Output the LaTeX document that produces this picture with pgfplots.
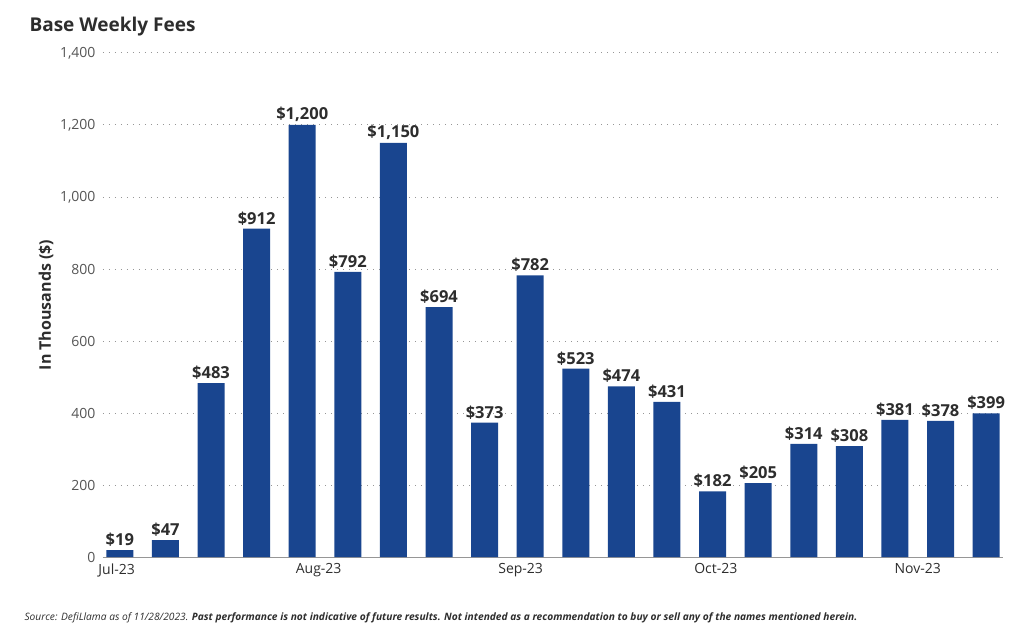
\documentclass[border=0pt]{standalone}
\usepackage{pgfplots}
\pgfplotsset{compat=1.18}
\usepackage{fontspec}
\setmainfont{Open Sans}
\definecolor{barblue}{RGB}{25,69,143}
\definecolor{txt}{RGB}{45,45,45}
\definecolor{ticktxt}{RGB}{85,85,85}
\definecolor{gridc}{RGB}{150,150,150}
\begin{document}
\begin{tikzpicture}[x=1pt,y=1pt]
\begin{axis}[
  at={(0,0)}, anchor=south west,
  scale only axis, width=900pt, height=504pt,
  xmin=-0.37, xmax=19.37, ymin=0, ymax=1400,
  axis x line*=bottom, axis y line*=left,
  x axis line style={gridc, line width=1pt, -},
  y axis line style={draw=none},
  ytick={0,200,...,1400},
  ymajorgrids, grid style={gridc, line width=1pt, dash pattern=on 1pt off 5pt},
  xtick={-0.07,4.36,8.79,13.07,17.5},
  xticklabels={Jul-23,Aug-23,Sep-23,Oct-23,Nov-23},
  major tick length=0pt,
  xticklabel style={font=\fontsize{14}{16}\selectfont, text=txt, yshift=-3pt},
  yticklabel style={font=\fontsize{14}{16}\selectfont, text=ticktxt, xshift=-4pt},
  /pgf/number format/assume math mode=true,
  /pgf/number format/1000 sep={,},
  clip=false,
]
\addplot[ybar, bar width=27pt, fill=barblue, draw=none,
  nodes near coords={\bfseries\$\pgfmathprintnumber[fixed,precision=0,1000 sep={,}]{\pgfplotspointmeta}},
  nodes near coords style={font=\fontsize{16.5}{18}\selectfont, text=txt},
] coordinates {
(0,19) (1,47) (2,483) (3,912) (4,1200) (5,792) (6,1150) (7,694) (8,373) (9,782)
(10,523) (11,474) (12,431) (13,182) (14,205) (15,314) (16,308) (17,381) (18,378) (19,399)
};
\end{axis}
\node[rotate=90, font=\bfseries\fontsize{16}{18}\selectfont, text=txt] at (-57,252) {In Thousands (\$)};
\node[anchor=base west, font=\bfseries\fontsize{19}{21}\selectfont, text=txt] at (-77,600-73-2) {Base Weekly Fees};
\node[anchor=base west, font=\itshape\fontsize{10.2}{12}\selectfont, text=txt] at (-82,-63) {Source: DefiLlama as of 11/28/2023. \textbf{Past performance is not indicative of future results. Not intended as a recommendation to buy or sell any of the names mentioned herein.}};
\pgfresetboundingbox
\path (-103,-73) rectangle (933,557);
\end{tikzpicture}
\end{document}
